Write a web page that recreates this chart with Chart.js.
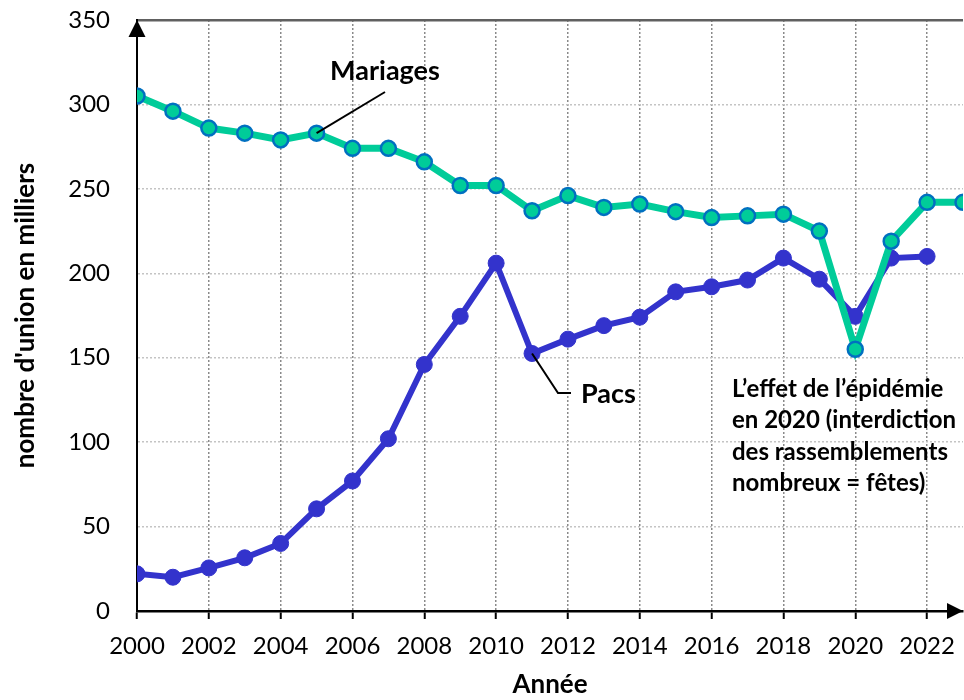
<!DOCTYPE html>
<html>
<head>
<meta charset="utf-8">
<script src="https://cdn.jsdelivr.net/npm/chart.js@4.4.1/dist/chart.umd.min.js"></script>
<style>
  html, body { margin: 0; padding: 0; background: #fff; overflow: hidden; }
  #wrap { width: 973px; height: 700px; position: relative; }
</style>
</head>
<body>
<div id="wrap"><canvas id="chartUnions"></canvas></div>
<script>
// --- données (milliers) ---
const annees = [2000, 2001, 2002, 2003, 2004, 2005, 2006, 2007, 2008, 2009, 2010, 2011,
    2012, 2013, 2014, 2015, 2016, 2017, 2018, 2019, 2020, 2021, 2022, 2023];
const mariages = [305, 296, 286, 283, 279, 283, 274, 274, 266, 252, 252, 237,
    246, 239, 241, 236.5, 233, 234, 235, 225, 155, 219, 242, 242];
const pacs = [22, 20, 25.5, 31.5, 40, 60.5, 77, 102, 146, 174.5, 206, 152.5,
    161, 169, 174, 189, 192, 196, 209, 196.5, 174.5, 209, 210];
const yTicks = [0, 50, 100, 150, 200, 250, 300, 350];
const noteEpidemie = ['L\u2019effet de l\u2019épidémie', 'en 2020 (interdiction',
    'des rassemblements', 'nombreux = fêtes)'];

const FONT = 'Lato, "Open Sans", sans-serif';
const VERT = '#00CC99', BLEU_BORD = '#0070C0', BLEU = '#3333CC';

const toXY = (arr) => arr.map((v, i) => ({ x: annees[i], y: v }));

// flèches des axes + annotations
const annotations = {
    id: 'annotations',
    afterDraw(chart) {
        const { ctx, chartArea: a, scales: { x, y } } = chart;
        ctx.save();
        ctx.fillStyle = '#000';
        // flèche axe Y
        ctx.beginPath();
        ctx.moveTo(a.left, a.top);
        ctx.lineTo(a.left - 8.5, a.top + 17);
        ctx.lineTo(a.left + 8.5, a.top + 17);
        ctx.closePath(); ctx.fill();
        // flèche axe X (pointe au bord droit de la fenêtre)
        ctx.beginPath();
        ctx.moveTo(a.right, a.bottom);
        ctx.lineTo(a.right - 16, a.bottom - 8);
        ctx.lineTo(a.right - 16, a.bottom + 8);
        ctx.closePath(); ctx.fill();

        // traits de rappel
        ctx.strokeStyle = '#000';
        ctx.lineWidth = 2;
        ctx.beginPath();
        ctx.moveTo(x.getPixelForValue(2005), y.getPixelForValue(283));
        ctx.lineTo(385, 92);
        ctx.stroke();
        ctx.beginPath();
        ctx.moveTo(x.getPixelForValue(2011), y.getPixelForValue(152.5));
        ctx.lineTo(558, 393);
        ctx.lineTo(571, 393);
        ctx.stroke();

        // textes
        ctx.font = 'bold 27px ' + FONT;
        ctx.textBaseline = 'middle';
        ctx.textAlign = 'center';
        ctx.fillText('Mariages', 385, 71);
        ctx.textAlign = 'left';
        ctx.fillText('Pacs', 581, 394);
        ctx.font = 'bold 24px ' + FONT;
        noteEpidemie.forEach((t, i) => ctx.fillText(t, 732, 389 + i * 31.5));
        ctx.restore();
    }
};

new Chart(document.getElementById('chartUnions'), {
    type: 'line',
    data: {
        datasets: [
            {
                label: 'Mariages', data: toXY(mariages),
                borderColor: VERT, borderWidth: 7,
                pointRadius: 7.5, pointBackgroundColor: VERT,
                pointBorderColor: BLEU_BORD, pointBorderWidth: 2.5,
                tension: 0
            },
            {
                label: 'Pacs', data: toXY(pacs),
                borderColor: BLEU, borderWidth: 6,
                pointRadius: 8, pointBackgroundColor: BLEU,
                pointBorderColor: BLEU, pointBorderWidth: 1,
                tension: 0
            }
        ]
    },
    options: {
        responsive: true, maintainAspectRatio: false, animation: false,
        layout: { padding: { top: 20, right: 0, left: 0, bottom: 0 } },
        plugins: { legend: { display: false }, tooltip: { enabled: false } },
        scales: {
            x: {
                type: 'linear', min: 2000, max: 2023,
                afterFit: (s) => { s.height = 89; s.paddingLeft = 0; s.paddingRight = 0; },
                ticks: {
                    stepSize: 2, includeBounds: false, color: '#000', padding: 13,
                    font: { family: FONT, size: 24 }, maxRotation: 0,
                    callback: (v) => String(v)
                },
                grid: {
                    color: '#8a8a8a', lineWidth: 1.5, tickLength: 8,
                    tickColor: '#000', tickWidth: 2, tickBorderDash: []
                },
                border: { display: true, color: '#000', width: 2.5, dash: [2, 2] },
                title: {
                    display: true, text: 'Année', color: '#000',
                    font: { family: FONT, size: 26, weight: 'bold' }, padding: { top: 0, bottom: 0 }
                }
            },
            y: {
                min: 0, max: 350,
                afterFit: (s) => { s.width = 137; s.paddingTop = 0; s.paddingBottom = 0; },
                afterBuildTicks: (s) => { s.ticks = yTicks.map(v => ({ value: v })); },
                ticks: {
                    color: '#000', padding: 27,
                    font: { family: FONT, size: 24 }
                },
                grid: {
                    drawTicks: false,
                    color: (c) => (c.tick && c.tick.value === 350) ? '#606060' : '#c4c4c4',
                    lineWidth: (c) => (c.tick && c.tick.value === 350) ? 2.5 : 1.5
                },
                border: {
                    display: true, color: '#000', width: 2,
                    dash: (c) => (c.tick && c.tick.value === 350) ? [] : [2, 2]
                },
                title: {
                    display: true, text: "nombre d'union en milliers", color: '#000',
                    font: { family: FONT, size: 26, weight: 'bold' }, padding: { top: 10, bottom: 0 }
                }
            }
        }
    },
    plugins: [annotations]
});
</script>
</body>
</html>
